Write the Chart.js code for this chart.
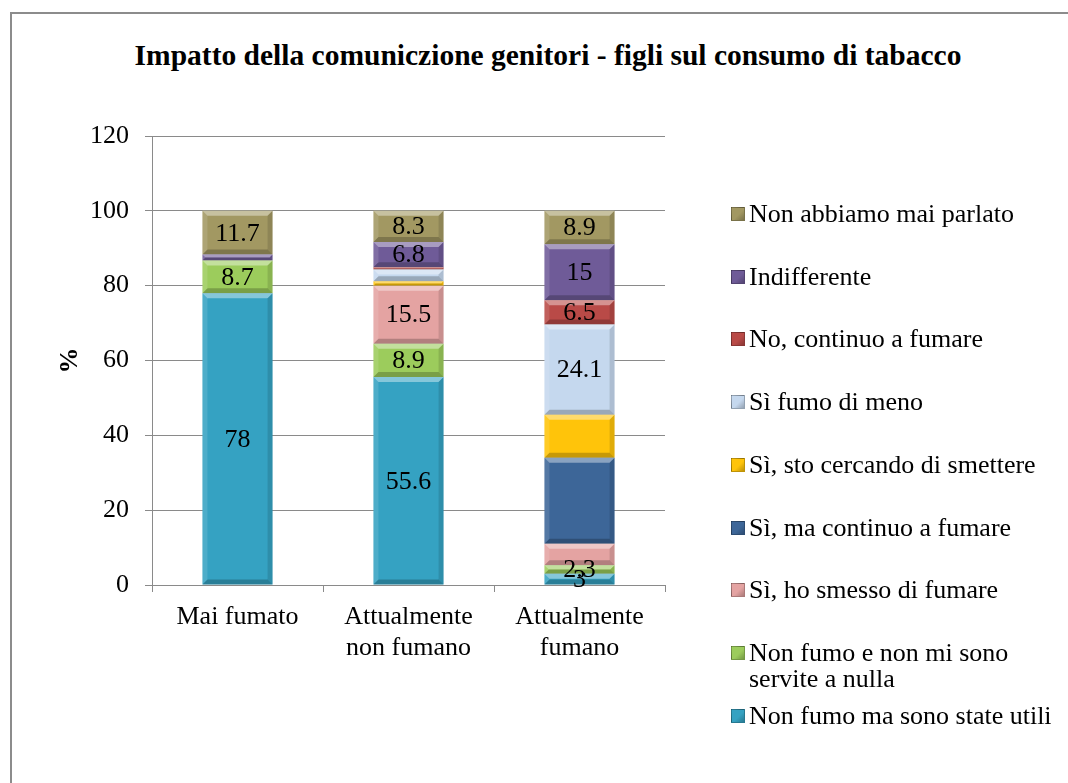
<!DOCTYPE html>
<html>
<head>
<meta charset="utf-8">
<script src="https://cdn.jsdelivr.net/npm/chart.js@4.4.1/dist/chart.umd.min.js"></script>
<style>
  html, body { margin: 0; padding: 0; background: #fff; }
  body { width: 1068px; height: 783px; position: relative; overflow: hidden; font-family: "Liberation Serif", "Times New Roman", serif; }
  #frame { position: absolute; left: 10px; top: 12px; width: 1100px; height: 820px; border: 2px solid #8c8c8c; box-sizing: border-box; }
  #title { position: absolute; left: 0; top: 37px; width: 1096px; text-align: center; font-weight: bold; font-size: 29.5px; line-height: 36px; color: #000; }
  #chart { position: absolute; left: 0; top: 0; }
  #legend { position: absolute; left: 731px; top: 0; }
  .item { position: absolute; left: 0; display: flex; align-items: flex-start; white-space: pre; font-size: 26px; line-height: 26px; color: #000; }
  .sw { width: 14px; height: 14px; margin-top: 6px; margin-right: 4px; box-sizing: border-box; border: 1px solid rgba(0,0,0,0.25); }
</style>
</head>
<body>
<div id="frame"></div>
<div id="title">Impatto della comuniczione genitori - figli sul consumo di tabacco</div>
<canvas id="chart" width="1068" height="783"></canvas>
<div id="legend"></div>
<script>
// categorie (asse x)
const categories = [["Mai fumato"], ["Attualmente", "non fumano"], ["Attualmente", "fumano"]];
const yTicks = [0, 20, 40, 60, 80, 100, 120];

// serie, dal basso verso l'alto
const seriesNames = [
  "Non fumo ma sono state utili",
  "Non fumo e non mi sono\nservite a nulla",
  "Sì, ho smesso di fumare",
  "Sì, ma continuo a fumare",
  "Sì, sto cercando di smettere",
  "Sì fumo di meno",
  "No, continuo a fumare",
  "Indifferente",
  "Non abbiamo mai parlato",
];

const utili        = [78, 55.6, 3];
const nulla        = [8.7, 8.9, 2.3];
const smesso       = [0, 15.5, 5.7];
const maContinuo   = [0, 0, 23];
const cercando     = [0, 1.2, 11.5];
const menoFumo     = [0, 3.1, 24.1];
const noContinuo   = [0, 0.6, 6.5];
const indifferente = [1.6, 6.8, 15];
const maiParlato   = [11.7, 8.3, 8.9];

// quali valori hanno l'etichetta nel grafico originale
const shown = [
  [1, 1, 1], [1, 1, 1], [0, 1, 0], [0, 0, 0], [0, 0, 0],
  [0, 0, 1], [0, 0, 1], [0, 1, 1], [1, 1, 1],
];

const COLORS = ["#35a2c2", "#9ccc5c", "#e4a3a2", "#3d6698", "#ffc40a", "#c5d8ee", "#b94a47", "#6f5b98", "#a29862"];
const series = [utili, nulla, smesso, maContinuo, cercando, menoFumo, noContinuo, indifferente, maiParlato];

const FONT = "'Liberation Serif', 'Times New Roman', serif";
const GRID = "#8a8a8a";

function poly(ctx, pts, fill) {
  ctx.beginPath();
  ctx.moveTo(pts[0][0], pts[0][1]);
  for (let k = 1; k < pts.length; k++) ctx.lineTo(pts[k][0], pts[k][1]);
  ctx.closePath();
  ctx.fillStyle = fill;
  ctx.fill();
}

// bevel stile Excel + etichette dei valori
const bevelLabels = {
  id: "bevelLabels",
  afterDatasetsDraw(chart) {
    const ctx = chart.ctx;
    ctx.save();
    chart.data.datasets.forEach((ds, i) => {
      chart.getDatasetMeta(i).data.forEach((bar) => {
        const { x, y, base, width } = bar.getProps(["x", "y", "base", "width"], true);
        const l = x - width / 2, r = x + width / 2;
        const t = Math.min(y, base), b = Math.max(y, base);
        const h = b - t;
        if (h < 1.5) return;
        const e = Math.min(5, h / 2);
        poly(ctx, [[l, t], [r, t], [r - e, t + e], [l + e, t + e]], "rgba(255,255,255,0.40)");
        poly(ctx, [[l, b], [r, b], [r - e, b - e], [l + e, b - e]], "rgba(0,0,0,0.22)");
        poly(ctx, [[l, t], [l + e, t + e], [l + e, b - e], [l, b]], "rgba(255,255,255,0.12)");
        poly(ctx, [[r, t], [r - e, t + e], [r - e, b - e], [r, b]], "rgba(0,0,0,0.12)");
      });
    });
    ctx.fillStyle = "#000";
    ctx.font = "26px " + FONT;
    ctx.textAlign = "center";
    ctx.textBaseline = "middle";
    chart.data.datasets.forEach((ds, i) => {
      chart.getDatasetMeta(i).data.forEach((bar, j) => {
        if (!shown[i][j]) return;
        const { x, y, base } = bar.getProps(["x", "y", "base"], true);
        ctx.fillText(String(ds.data[j]), x, (y + base) / 2 + 1);
      });
    });
    ctx.restore();
  },
};

new Chart(document.getElementById("chart"), {
  type: "bar",
  data: {
    labels: categories,
    datasets: series.map((d, i) => ({
      label: seriesNames[i],
      data: d,
      backgroundColor: COLORS[i],
      borderWidth: 0,
      categoryPercentage: 1,
      barPercentage: 0.41,
    })),
  },
  options: {
    responsive: false,
    animation: false,
    layout: { padding: { left: 40, top: 136, right: 403, bottom: 98 } },
    plugins: { legend: { display: false }, title: { display: false }, tooltip: { enabled: false } },
    scales: {
      x: {
        stacked: true,
        afterFit: (s) => { s.height = 100; },
        grid: { offset: true, drawOnChartArea: false, color: GRID, tickLength: 7, tickColor: GRID },
        border: { color: GRID, width: 1 },
        ticks: { color: "#000", padding: 9, font: { family: FONT, size: 26, lineHeight: 1.22 }, maxRotation: 0 },
      },
      y: {
        stacked: true,
        min: 0,
        max: 120,
        afterFit: (s) => { s.width = 112; },
        afterBuildTicks: (s) => { s.ticks = yTicks.map(v => ({ value: v })); },
        grid: { color: GRID, tickLength: 7, tickColor: GRID },
        border: { color: GRID, width: 1 },
        ticks: { color: "#000", padding: 16, font: { family: FONT, size: 26 } },
        title: { display: true, text: "%", color: "#000", padding: { top: 15, bottom: 0 }, font: { family: FONT, size: 26, weight: "bold" } },
      },
    },
  },
  plugins: [bevelLabels],
});

// legenda HTML (ordine inverso, come nell'originale)
const legendEl = document.getElementById("legend");
for (let i = seriesNames.length - 1; i >= 0; i--) {
  const row = seriesNames.length - 1 - i;
  const item = document.createElement("div");
  item.className = "item";
  item.style.top = (201 + row * 62.7) + "px";
  const sw = document.createElement("span");
  sw.className = "sw";
  sw.style.background = `linear-gradient(135deg, ${COLORS[i]} 55%, rgba(0,0,0,0.25)), ${COLORS[i]}`;
  sw.style.backgroundColor = COLORS[i];
  const txt = document.createElement("span");
  txt.textContent = seriesNames[i];
  item.appendChild(sw);
  item.appendChild(txt);
  legendEl.appendChild(item);
}
</script>
</body>
</html>
